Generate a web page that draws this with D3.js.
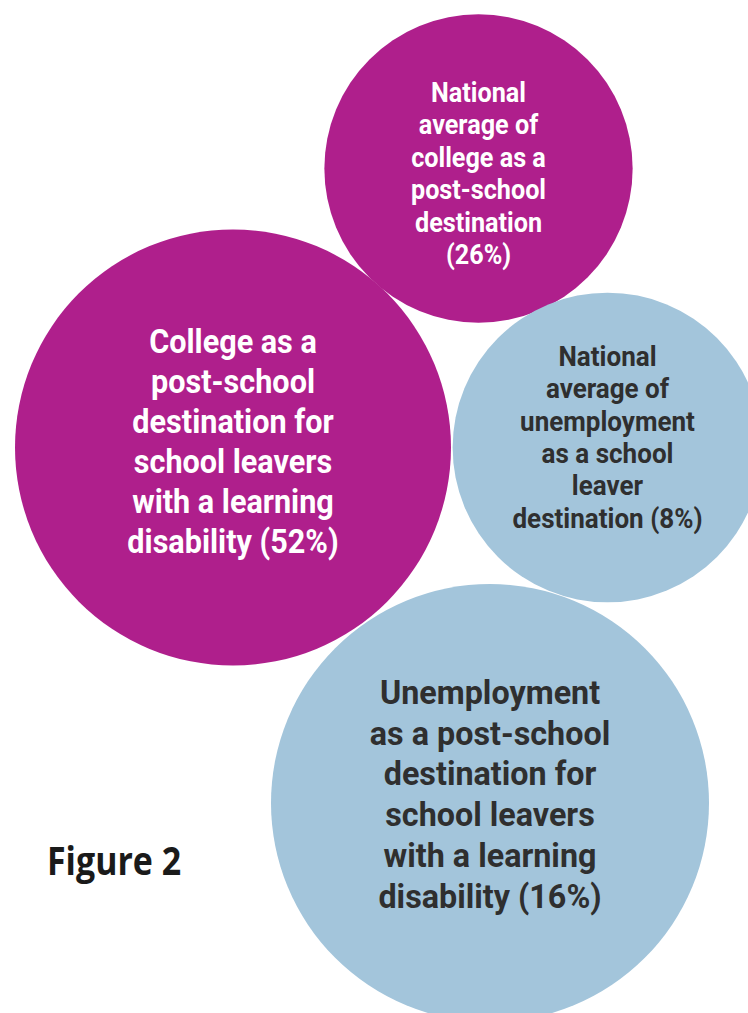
<!DOCTYPE html>
<html><head><meta charset="utf-8">
<script src="https://cdn.jsdelivr.net/npm/d3@7"></script>
<style>
html,body{margin:0;padding:0;background:#fff;}
svg{display:block;}
</style></head>
<body>
<svg id="chart" width="748" height="1013"></svg>
<script>
// ---- data ----
const ids = ["natCollege", "ldCollege", "natUnemp", "ldUnemp"];
const groups = ["college", "college", "unemployment", "unemployment"];
const values = [26, 52, 8, 16];
const labels = [
  ["National", "average of", "college as a", "post-school", "destination", "(26%)"],
  ["College as a", "post-school", "destination for", "school leavers", "with a learning", "disability (52%)"],
  ["National", "average of", "unemployment", "as a school", "leaver", "destination (8%)"],
  ["Unemployment", "as a post-school", "destination for", "school leavers", "with a learning", "disability (16%)"]
];
const title = "Figure 2";

// ---- layout (positions / styles) ----
const roboto = "Roboto, 'DejaVu Sans Condensed', sans-serif";
const openSans = "'Open Sans', Roboto, sans-serif";
const layout = {
  natCollege: {cx: 478.5, cy: 168.5, dy: 5, fs: 28, lh: 32.4, sx: 0.90},
  ldCollege:  {cx: 233,   cy: 447.5, dy: -6, fs: 34, lh: 40, sx: 0.90},
  natUnemp:   {cx: 607.5, cy: 447.5, dy: -10, fs: 28, lh: 32.3, sx: 0.93},
  ldUnemp:    {cx: 490,   cy: 803,   dy: -9, fs: 34, lh: 40.8, sx: 0.95}
};
const fill = {college: "#AF1F8C", unemployment: "#A3C5DB"};
const textFill = {college: "#ffffff", unemployment: "#2f2f2f"};

const rCollege = d3.scaleSqrt().domain([0, 52]).range([0, 218]);
const rUnemp = d3.scaleSqrt().domain([0, 16]).range([0, 219]);

const data = ids.map((id, i) => ({id, group: groups[i], value: values[i], lines: labels[i]}));

const svg = d3.select("#chart");

const g = svg.selectAll("g.bubble").data(data).join("g").attr("class", "bubble");

g.append("circle")
  .attr("cx", d => layout[d.id].cx)
  .attr("cy", d => layout[d.id].cy)
  .attr("r", d => d.group === "college" ? rCollege(d.value) : rUnemp(d.value))
  .attr("fill", d => fill[d.group]);

g.each(function(d) {
  const L = layout[d.id];
  const n = d.lines.length;
  const t = d3.select(this).append("g")
    .attr("transform", `translate(${L.cx},0) scale(${L.sx},1)`)
    .append("text")
    .attr("text-anchor", "middle")
    .attr("font-family", roboto)
    .attr("font-weight", "bold")
    .attr("font-size", L.fs)
    .attr("fill", textFill[d.group]);
  d.lines.forEach((line, k) => {
    t.append("tspan")
      .attr("x", 0)
      .attr("y", L.cy + L.dy + (k - (n - 1) / 2) * L.lh)
      .attr("dominant-baseline", "central")
      .text(line);
  });
});

svg.append("g")
  .attr("transform", "translate(47,0) scale(0.87,1)")
  .append("text")
  .attr("x", 0)
  .attr("y", 860)
  .attr("dominant-baseline", "central")
  .attr("font-family", openSans)
  .attr("font-weight", "bold")
  .attr("font-size", 39)
  .attr("fill", "#1a1a1a")
  .text(title);
</script>
</body></html>
